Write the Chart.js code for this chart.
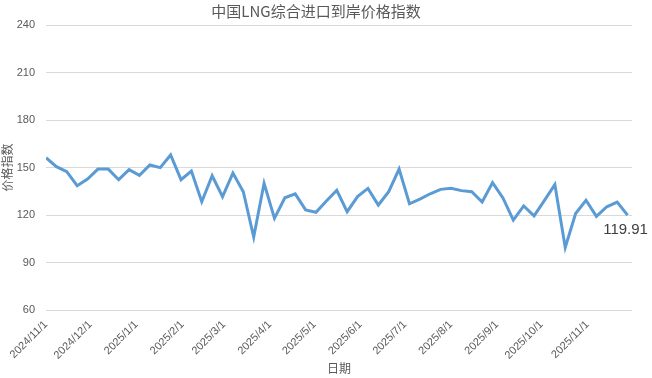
<!DOCTYPE html>
<html>
<head>
<meta charset="utf-8">
<script src="https://cdn.jsdelivr.net/npm/chart.js@4/dist/chart.umd.min.js"></script>
<style>
html,body{margin:0;padding:0;background:#fff;}
#wrap{width:652px;height:378px;position:relative;}
</style>
</head>
<body>
<div id="wrap"><canvas id="c" width="652" height="378"></canvas></div>
<script>
// ---- data ----
const titleText = '中国LNG综合进口到岸价格指数';
const xTitle = '日期';
const yTitle = '价格指数';
const dates = [
 '2024-11-01','2024-11-08','2024-11-15','2024-11-22','2024-11-29',
 '2024-12-06','2024-12-13','2024-12-20','2024-12-27',
 '2025-01-03','2025-01-10','2025-01-17','2025-01-24','2025-01-31',
 '2025-02-07','2025-02-14','2025-02-21','2025-02-28',
 '2025-03-07','2025-03-14','2025-03-21','2025-03-28',
 '2025-04-04','2025-04-11','2025-04-18','2025-04-25',
 '2025-05-02','2025-05-09','2025-05-16','2025-05-23','2025-05-30',
 '2025-06-06','2025-06-13','2025-06-20','2025-06-27',
 '2025-07-04','2025-07-11','2025-07-18','2025-07-25',
 '2025-08-01','2025-08-08','2025-08-15','2025-08-22','2025-08-29',
 '2025-09-05','2025-09-12','2025-09-19','2025-09-26',
 '2025-10-03','2025-10-10','2025-10-17','2025-10-24','2025-10-31',
 '2025-11-07','2025-11-14','2025-11-21','2025-11-28'
];
const values = [
 156.2,150.5,147.4,138.5,142.7,
 149.0,149.0,142.3,148.6,
 145.0,151.6,149.9,157.9,142.3,
 147.8,128.4,144.8,131.6,
 146.5,134.7,106.1,140.0,
 117.9,130.9,133.3,123.2,
 121.7,128.8,135.6,122.1,131.6,
 136.8,126.3,134.7,149.0,
 127.1,130.0,133.4,136.2,
 136.9,135.4,134.7,128.2,140.5,
 130.8,116.8,125.7,119.4,
 129.2,139.2,99.5,120.9,129.3,
 119.1,125.2,128.2,119.91
];
const monthTicks = ['2024-11-01','2024-12-01','2025-01-01','2025-02-01','2025-03-01','2025-04-01',
 '2025-05-01','2025-06-01','2025-07-01','2025-08-01','2025-09-01','2025-10-01','2025-11-01'];
const tickLabels = ['2024/11/1','2024/12/1','2025/1/1','2025/2/1','2025/3/1','2025/4/1',
 '2025/5/1','2025/6/1','2025/7/1','2025/8/1','2025/9/1','2025/10/1','2025/11/1'];
const axisStart = '2024-11-01';
const axisEnd = '2025-12-01';
const yMin = 60, yMax = 240, yStep = 30;

// ---- build ----
function day(s){const p=s.split('-').map(Number);return Date.UTC(p[0],p[1]-1,p[2])/86400000;}
const points = dates.map((d,i)=>({x:day(d), y:values[i]}));

const endLabel = {
  id:'endLabel',
  afterDatasetsDraw(chart){
    const meta = chart.getDatasetMeta(0);
    const pt = meta.data[meta.data.length-1];
    const ctx = chart.ctx;
    ctx.save();
    ctx.font = '15px "Liberation Sans", Arial, sans-serif';
    ctx.fillStyle = '#404040';
    ctx.textAlign = 'center';
    ctx.textBaseline = 'middle';
    ctx.fillText(values[values.length-1].toFixed(2), pt.x-2, pt.y+15);
    ctx.restore();
  }
};

new Chart(document.getElementById('c'), {
  type:'line',
  data:{datasets:[{
    data:points,
    borderColor:'#5B9BD5',
    borderWidth:3,
    pointRadius:0,
    tension:0,
    fill:false
  }]},
  options:{
    responsive:false,
    animation:false,
    layout:{padding:{left:0,right:20,top:0,bottom:0}},
    plugins:{
      legend:{display:false},
      tooltip:{enabled:false},
      title:{display:true,text:titleText,color:'#595959',
        font:{family:'"Noto Sans CJK SC", sans-serif',size:15,weight:'normal',lineHeight:1.2},
        padding:{top:2,bottom:5}}
    },
    scales:{
      x:{
        type:'linear',
        min:day(axisStart), max:day(axisEnd),
        afterBuildTicks(scale){ scale.ticks = monthTicks.map(d=>({value:day(d)})); },
        afterFit(scale){ scale.height = 68; },
        grid:{display:false, drawTicks:false},
        border:{display:false},
        ticks:{autoSkip:false, minRotation:45, maxRotation:45, padding:8, color:'#595959',
          font:{family:'"Liberation Sans", Arial, sans-serif', size:11},
          callback:(v,i)=>tickLabels[i]},
        title:{display:true,text:xTitle,color:'#595959',
          font:{family:'"Noto Sans CJK SC", sans-serif',size:12},padding:{top:0,bottom:2}}
      },
      y:{
        min:yMin, max:yMax,
        afterFit(scale){ scale.width = 46; },
        grid:{color:'#d9d9d9', lineWidth:1, drawTicks:false},
        border:{display:false},
        ticks:{stepSize:yStep, padding:11, color:'#595959',
          font:{family:'"Liberation Sans", Arial, sans-serif', size:11}},
        title:{display:true,text:yTitle,color:'#595959',
          font:{family:'"Noto Sans CJK SC", sans-serif',size:12},padding:{top:0,bottom:0}}
      }
    }
  },
  plugins:[endLabel]
});
</script>
</body>
</html>
